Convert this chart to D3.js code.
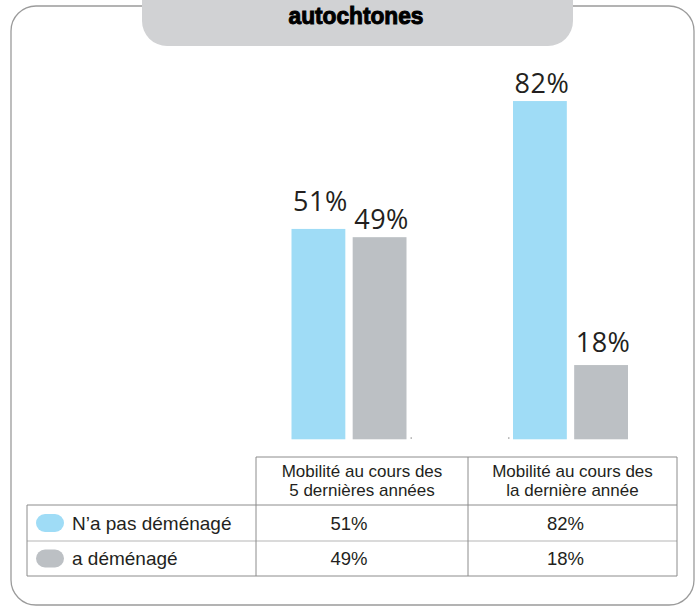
<!DOCTYPE html>
<html><head><meta charset="utf-8">
<script src="https://cdn.jsdelivr.net/npm/d3@7"></script>
<style>html,body{margin:0;padding:0;background:#fff;}svg{display:block;}</style>
</head><body>
<svg id="c" width="696" height="607"></svg>
<script>
const title = "autochtones";
const categories = ["Mobilité au cours des 5 dernières années", "Mobilité au cours des la dernière année"];
const headerLines = [["Mobilité au cours des", "5 dernières années"], ["Mobilité au cours des", "la dernière année"]];
const seriesNames = ["N’a pas déménagé", "a déménagé"];
const notMoved = [51, 82];
const moved = [49, 18];
const colors = ["#9fdcf6", "#bcc0c4"];

const svg = d3.select("#c");

// outer frame
const fx0 = 11, fy0 = 6, fx1 = 694, fy1 = 605, r = 25;
svg.append("rect").attr("x", fx0).attr("y", fy0).attr("width", fx1 - fx0).attr("height", fy1 - fy0)
  .attr("rx", r).attr("ry", r).attr("fill", "#fff").attr("stroke", "#9b9b9b").attr("stroke-width", 1.3);

// title tab
const tx0 = 142, tx1 = 573, ty1 = 46, tr = 25;
const p = d3.path();
p.moveTo(tx0, -2); p.lineTo(tx0, ty1 - tr);
p.arcTo(tx0, ty1, tx0 + tr, ty1, tr);
p.lineTo(tx1 - tr, ty1);
p.arcTo(tx1, ty1, tx1, ty1 - tr, tr);
p.lineTo(tx1, -2); p.closePath();
svg.append("path").attr("d", p.toString()).attr("fill", "#d1d2d4");
svg.append("text").attr("x", 356).attr("y", 24).attr("text-anchor", "middle")
  .attr("font-family", "'Liberation Sans',Arial,sans-serif")
  .attr("font-weight", "bold").attr("font-size", 23.5).attr("fill", "#000")
  .attr("stroke", "#000").attr("stroke-width", 1)
  .attr("textLength", 135).attr("lengthAdjust", "spacingAndGlyphs").text(title);

// bars
const data = categories.map((c, i) => ({cat: c, vals: [notMoved[i], moved[i]]}));
const x = d3.scalePoint().domain(categories).range([349, 570.5]);
const groupW = 115;
const xs = d3.scaleBand().domain(seriesNames).range([0, groupW]).paddingInner(0.12);
const y = d3.scaleLinear().domain([0, 100]).range([439.3, 439.3 - 412.5]);

const g = svg.append("g");
data.forEach((d, gi) => {
  const cx = x(d.cat) - groupW / 2;
  d.vals.forEach((v, si) => {
    const bw = xs.bandwidth();
    const bx = cx + xs(seriesNames[si]);
    g.append("rect").attr("x", bx).attr("y", y(v)).attr("width", bw).attr("height", y(0) - y(v))
      .attr("fill", colors[si]);
    let off = 8;
    if (si === 0 && Math.abs(d.vals[0] - d.vals[1]) < 10) off = 18;
    if (si === 1 && d.vals[1] < 30) off = 13;
    g.append("text").attr("x", bx + bw / 2 + 2).attr("y", y(v) - off).attr("text-anchor", "middle")
      .attr("font-family", "'Open Sans',sans-serif").attr("font-size", 27).attr("fill", "#231f20")
      .attr("letter-spacing", 0.5)
      .text(v + "%");
  });
  g.append("rect").attr("x", gi === 0 ? x(d.cat) + groupW / 2 + 4 : x(d.cat) - groupW / 2 - 5)
    .attr("y", y(0) - 2).attr("width", 1.5).attr("height", 1.5).attr("fill", "#aaa");
});

// table
const tl = 27, c1 = 256, c2 = 468, tr2 = 677;
const hTop = 457, r1 = 505, r2 = 541, r3 = 576;
const lineC = "#8c8c8c", innerC = "#b5b5b5";
const t = svg.append("g").attr("font-family", "'Liberation Sans',Arial,sans-serif").attr("fill", "#231f20");
t.append("line").attr("x1", tl).attr("x2", tr2).attr("y1", r2).attr("y2", r2).attr("stroke", innerC);
t.append("path").attr("fill", "none").attr("stroke", lineC).attr("stroke-width", 1)
  .attr("d", `M${c1},${hTop}H${tr2}V${r3}H${tl}V${r1}H${tr2}M${c1},${hTop}V${r3}M${c2},${hTop}V${r3}`);
const colX = [(c1 + c2) / 2, (c2 + tr2) / 2];
headerLines.forEach((ls, i) => {
  ls.forEach((l, j) => {
    t.append("text").attr("x", colX[i]).attr("y", 477 + j * 19).attr("text-anchor", "middle")
      .attr("font-size", 17).text(l);
  });
});
const rowTops = [r1, r2], rowBots = [r2, r3];
[notMoved, moved].forEach((vals, si) => {
  const yy = (rowTops[si] + rowBots[si]) / 2;
  t.append("rect").attr("x", 36).attr("y", yy - 9).attr("width", 28).attr("height", 18).attr("rx", 9)
    .attr("fill", colors[si]);
  t.append("text").attr("x", 72).attr("y", yy + 6.5).attr("font-size", 19).text(seriesNames[si]);
  vals.forEach((v, ci) => {
    t.append("text").attr("x", colX[ci] - (ci === 0 ? 13 : 7)).attr("y", yy + 6.5).attr("text-anchor", "middle")
      .attr("font-size", 18.5).text(v + "%");
  });
});
</script>
</body></html>
